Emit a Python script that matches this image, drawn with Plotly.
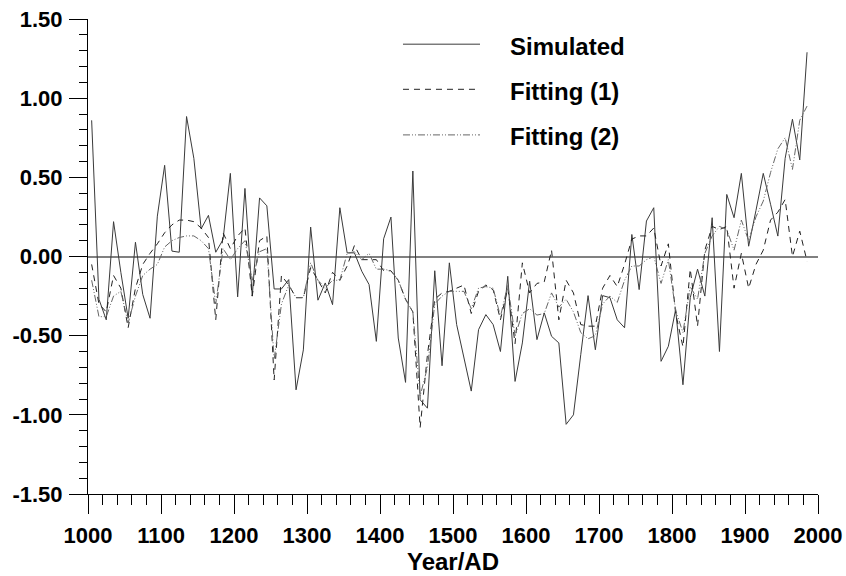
import plotly.graph_objects as go

years = list(range(1005, 1990, 10))

simulated = [
    0.86, -0.27, -0.40, 0.22, -0.10, -0.39, 0.09, -0.24, -0.39, 0.255,
    0.576, 0.034, 0.027, 0.884, 0.62, 0.175, 0.26, 0.027, 0.107, 0.525,
    -0.255, 0.43, -0.25, 0.37, 0.32, -0.205, -0.205, -0.146, -0.842, -0.59,
    0.186, -0.276, -0.167, -0.304, 0.308, 0.023, 0.023, -0.093, -0.177, -0.536,
    0.112, 0.249, -0.515, -0.795, 0.54, -0.905, -0.958, -0.09, -0.69, -0.04,
    -0.43, -0.64, -0.85, -0.462, -0.367, -0.43, -0.60, -0.125, -0.789, -0.546,
    -0.156, -0.525, -0.356, -0.504, -0.546, -1.06, -1.00, -0.62, -0.247, -0.589,
    -0.247, -0.26, -0.40, -0.45, 0.139, -0.209, 0.224, 0.308, -0.662, -0.567,
    -0.335, -0.81, -0.26, -0.08, -0.25, 0.245, -0.60, 0.392, 0.245, 0.525,
    0.065, 0.29, 0.525, 0.33, 0.129, 0.62, 0.867, 0.61, 1.29,
]

fitting1 = [
    -0.05, -0.30, -0.35, -0.12, -0.20, -0.45, -0.20, -0.05, 0.02, 0.08,
    0.15, 0.20, 0.23, 0.23, 0.22, 0.18, 0.12, -0.40, 0.15, 0.05,
    0.13, 0.18, -0.25, 0.10, 0.13, -0.78, -0.12, -0.18, -0.26, -0.26,
    -0.07, -0.15, -0.23, -0.10, -0.15, -0.06, 0.07, -0.02, -0.02, -0.02,
    -0.09, -0.09, -0.15, -0.27, -0.35, -1.08, -0.62, -0.27, -0.23, -0.22,
    -0.20, -0.18, -0.36, -0.22, -0.18, -0.21, -0.40, -0.20, -0.55, -0.04,
    -0.23, -0.17, -0.16, 0.04, -0.40, -0.15, -0.23, -0.43, -0.44, -0.44,
    -0.20, -0.12, -0.19, -0.05, 0.11, 0.13, 0.13, 0.18, -0.06, 0.08,
    -0.36, -0.57, -0.08, -0.44, 0.04, 0.19, 0.17, 0.19, -0.20, 0.02,
    -0.20, -0.05, 0.04, 0.23, 0.28, 0.36, 0.00, 0.16, -0.03,
]

fitting2 = [
    -0.15, -0.38, -0.38, -0.25, -0.22, -0.42, -0.25, -0.12, -0.08, -0.05,
    0.06, 0.10, 0.12, 0.13, 0.13, 0.10, 0.05, -0.30, 0.05, -0.02,
    0.05, 0.10, -0.15, 0.03, 0.05, -0.65, -0.30, -0.18, -0.26, -0.26,
    -0.04, -0.15, -0.20, -0.15, -0.15, 0.02, 0.03, -0.02, 0.02, -0.08,
    -0.08, -0.09, -0.15, -0.27, -0.35, -0.88, -0.70, -0.30, -0.25, -0.22,
    -0.22, -0.22, -0.33, -0.20, -0.19, -0.20, -0.38, -0.18, -0.50, -0.36,
    -0.33, -0.37, -0.36, -0.23, -0.32, -0.27, -0.35, -0.48, -0.52, -0.50,
    -0.30, -0.25, -0.29, -0.15, -0.06, -0.06, -0.02, 0.00, -0.17, -0.02,
    -0.34, -0.48, -0.19, -0.27, 0.02, 0.13, 0.19, 0.17, 0.04, 0.23,
    0.10, 0.25, 0.35, 0.53, 0.68, 0.75, 0.55, 0.86, 0.95,
]

x_ticks = list(range(1000, 2001, 100))
y_ticks = [-1.5, -1.0, -0.5, 0.0, 0.5, 1.0, 1.5]
y_tick_text = ["-1.50", "-1.00", "-0.50", "0.00", "0.50", "1.00", "1.50"]

series_names = ["Simulated", "Fitting (1)", "Fitting (2)"]

FONT = "Liberation Sans, Arial, sans-serif"

styles = [
    dict(color="#3a3a3a", width=1, dash="solid"),
    dict(color="#222222", width=1, dash="6px,5px"),
    dict(color="#666666", width=1, dash="7px,2px,1px,2px,1px,2px"),
]

fig = go.Figure()
for name, vals, st in zip(series_names, [simulated, fitting1, fitting2], styles):
    fig.add_trace(go.Scatter(x=years, y=vals, mode="lines", name=name,
                             line=st, showlegend=False, hoverinfo="skip"))

# manual legend (long line samples as in reference)
leg_y = [0.947, 0.852, 0.756]
for name, st, yy in zip(series_names, styles, leg_y):
    fig.add_shape(type="line", xref="paper", yref="paper",
                  x0=0.4315, x1=0.537, y0=yy, y1=yy, line=st)
    fig.add_annotation(xref="paper", yref="paper", x=0.5753, y=yy - 0.004,
                       xanchor="left", yanchor="middle", text=name,
                       showarrow=False,
                       font=dict(family=FONT, size=24, color="black", weight="bold"))

fig.update_layout(
    width=846, height=576,
    margin=dict(l=88, r=28, t=19, b=82, autoexpand=False),
    paper_bgcolor="white", plot_bgcolor="white",
    showlegend=False,
    font=dict(family=FONT, color="black"),
)

fig.update_xaxes(
    automargin=False,
    range=[1000, 2000], tickvals=x_ticks, ticktext=[str(v) for v in x_ticks],
    showgrid=False, zeroline=False,
    showline=True, linecolor="black", linewidth=1,
    ticks="outside", ticklen=19, tickwidth=1, tickcolor="black",
    minor=dict(dtick=20, tick0=1000, ticks="outside", ticklen=10,
               tickwidth=1, tickcolor="black", showgrid=False),
    tickfont=dict(family=FONT, size=22, color="black", weight="bold"),
    ticklabelstandoff=3,
    title=dict(text="Year/AD", standoff=0,
               font=dict(family=FONT, size=24, color="black", weight="bold")),
)

fig.update_yaxes(
    automargin=False,
    range=[-1.5, 1.5], tickvals=y_ticks, ticktext=y_tick_text,
    showgrid=False,
    zeroline=True, zerolinecolor="#808080", zerolinewidth=2,
    showline=True, linecolor="black", linewidth=1,
    ticks="outside", ticklen=18, tickwidth=1, tickcolor="black",
    minor=dict(dtick=0.1, tick0=-1.5, ticks="outside", ticklen=8,
               tickwidth=1, tickcolor="black", showgrid=False),
    tickfont=dict(family=FONT, size=22, color="black", weight="bold"),
    ticklabelstandoff=2,
)

fig.write_html("out.html",
               config={"displayModeBar": False},
               post_script="document.body.style.margin='0';"
                           "document.body.style.overflow='hidden';")
